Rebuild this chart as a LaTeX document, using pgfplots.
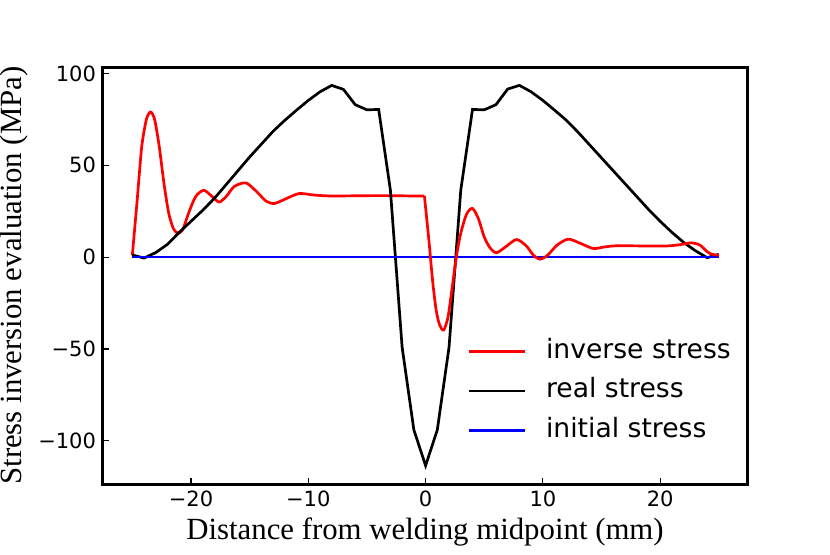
\documentclass[border=0pt]{standalone}
\usepackage{pgfplots}
\pgfplotsset{compat=1.18}
\usepackage{fontspec}
\setmainfont{Liberation Serif}
\newfontfamily\dejavu{DejaVu Sans}

\begin{document}
\begin{tikzpicture}
\useasboundingbox (-51.5pt,-35pt) rectangle (363.5pt,242pt);
\begin{axis}[
    scale only axis,
    width=322pt, height=208.5pt,
    xmin=-27.5, xmax=27.4, ymin=-123.5, ymax=103.5,
    axis line style={line width=1.5pt},
    tick style={line width=0.6pt, black},
    major tick length=3pt,
    tick align=inside,
    xtick pos=lower, ytick pos=left,
    xtick={-20,-10,0,10,20},
    xticklabels={−20,−10,0,10,20},
    ytick={-100,-50,0,50,100},
    yticklabels={−100,−50,0,50,100},
    tick label style={font=\dejavu\fontsize{10.5}{12}\selectfont},
    xlabel={Distance from welding midpoint (mm)},
    ylabel={Stress inversion evaluation (MPa)},
    label style={font=\fontsize{15.4}{18}\selectfont},
    xlabel style={at={(axis description cs:0.5,-0.115)}, anchor=center},
    ylabel style={at={(axis description cs:-0.1375,0.5)}, anchor=center},
    legend style={draw=none, fill=none, inner sep=0pt,
        at={(rel axis cs:0.5652,0.096)}, anchor=south west,
        font=\dejavu\fontsize{13.3}{16}\selectfont,
        nodes={inner sep=0pt, text height=10pt, text depth=3pt},
        row sep=6.85pt, column sep=10pt},
    legend cell align=left,
    legend image code/.code={\draw[#1] (0pt,0pt) -- (28pt,0pt);},
]
% inverse stress, left part
\addplot[red, line width=1.35pt, smooth, tension=0.45] coordinates {
    (-25.0,1) (-24.6,30) (-24.2,60) (-23.8,75) (-23.45,79) (-23.1,75)
    (-22.7,60) (-22.3,40) (-21.9,24) (-21.5,15.5) (-21.1,13) (-20.7,15)
    (-20.2,24) (-19.6,33) (-18.9,36.4) (-18.2,33) (-17.6,30) (-17.0,33)
    (-16.3,38.5) (-15.3,40.4) (-14.3,35) (-13.6,30.5) (-12.9,29.2) (-12.0,31.5)
    (-10.8,34.6) (-9.5,33.8) (-8,33.3) (-4,33.5) (-1,33.3) (-0.1,33.3)
};
\addlegendentry{inverse stress}
% real stress
\addplot[black, line width=1.35pt] coordinates {
    (-25,1.2) (-24,-0.5) (-23,2.5) (-22,7) (-21,13.5) (-20,19.5) (-19,25.5)
    (-18,32) (-17,39.5) (-16,47) (-15,54.5) (-14,61.5) (-13,68.5) (-12,74.5)
    (-11,80) (-10,85.3) (-9,90) (-8,93.5) (-7,91.3) (-6,83) (-5,80.2) (-4,80.4)
    (-3,36.5) (-2,-49) (-1,-94) (0,-113.5) (1,-94) (2,-49) (3,36.5)
    (4,80.4) (5,80.2) (6,83) (7,91.5) (8,93.5) (9,90) (10,85.3) (11,80)
    (12,74.5) (13,68) (14,61) (15,54) (16,47) (17,40) (18,33) (19,26)
    (20,19.5) (21,13.5) (22,8) (23,3.5) (24,-0.3) (25,1.5)
};
\addlegendentry{real stress}
% initial stress
\addplot[blue, line width=1.35pt] coordinates {(-25,0) (25,0)};
\addlegendentry{initial stress}
% inverse stress, right part
\addplot[red, line width=1.35pt, smooth, tension=0.45, forget plot] coordinates {
    (-0.1,33.3) (0.3,8) (0.6,-13) (0.9,-28.8) (1.2,-37) (1.54,-39.7) (1.9,-33)
    (2.2,-19.7) (2.62,0) (3.0,13) (3.5,23.5) (4.0,26.5) (4.5,21)
    (5.0,11) (5.5,5) (6.04,2.4) (6.8,5.5) (7.75,9.6) (8.6,6)
    (9.2,1) (9.74,-1.1) (10.4,1) (11.2,6.5) (12.16,9.8) (13.2,7.5)
    (14.3,4.7) (15.3,5.6) (16.3,6.2) (18.5,6.1) (20.6,6.1) (21.7,6.8)
    (22.7,7.8) (23.4,6.5) (24.0,3) (24.4,1.6) (25.0,1)
};
\end{axis}
\end{tikzpicture}
\end{document}
